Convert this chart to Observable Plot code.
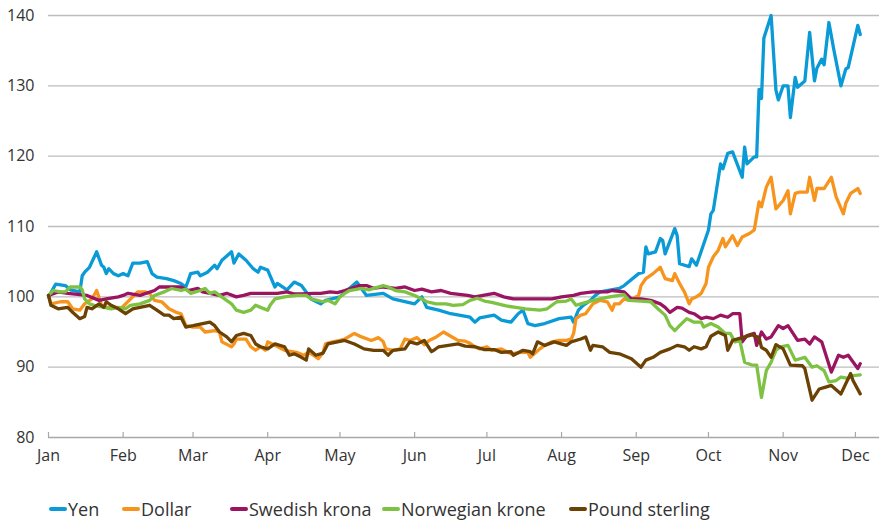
<!DOCTYPE html>
<html><head><meta charset="utf-8">
<script src="https://cdn.jsdelivr.net/npm/d3@7"></script>
<script src="https://cdn.jsdelivr.net/npm/@observablehq/plot@0.6"></script>
<style>
body{margin:0;background:#fff;font-family:"Open Sans",sans-serif;color:#333;}
#wrap{position:relative;width:879px;height:521px;}
#legend{position:absolute;left:0;top:496px;width:879px;height:26px;font-size:18px;color:#333;}
.item{position:absolute;top:0;height:26px;display:flex;align-items:center;white-space:nowrap;}
.sw{width:18px;height:4px;border-radius:2px;margin-right:1px;}
</style></head><body><div id="wrap"><div id="chart"></div><div id="legend"></div></div>
<script>
// [day of 2008 (0 = 1 Jan), index value]
const yen = [[0,100],[3,101.8],[7,101.6],[9,101],[13,100.7],[14,103],[15,103.5],[17,104.2],[20,106.4],[22,104.5],[23,104.2],[24,103.3],[25,104],[27,103.3],[29,103],[31,103.3],[33,103],[35,104.8],[38,104.8],[41,105],[43,103.3],[45,102.8],[49,102.6],[52,102.3],[55,101.9],[57,101.4],[58,102.3],[59,103.3],[62,103.5],[63,103],[66,103.5],[69,104.5],[70,104],[72,105.2],[76,106.4],[77,104.8],[79,106.1],[82,105.2],[85,104],[87,103.5],[88,104.2],[91,103.8],[94,101.4],[95,101.9],[99,101],[102,102.1],[105,101.6],[107,100.7],[109,99.7],[113,99],[115,99.5],[121,100],[128,102.1],[132,100.2],[139,100.5],[143,99.7],[152,99],[155,100],[157,98.5],[162,98.1],[167,97.6],[175,97.1],[177,96.4],[179,97],[185,97.4],[188,96.7],[192,96.4],[195,97.6],[197,98.1],[199,96.2],[202,95.9],[206,96.2],[212,96.9],[217,97.1],[218,96.4],[220,98.1],[222,98.8],[225,99.5],[227,100.2],[229,100.7],[237,101.2],[239,101.6],[245,103.3],[247,103.5],[248,107.1],[249,106.1],[252,106.4],[254,108.3],[255,108],[256,106.1],[260,109.7],[261,108.7],[262,104.7],[266,104.3],[267,105.4],[269,104.5],[273,108.5],[274,109.5],[275,111.8],[276,112.3],[279,118.9],[280,118.2],[282,120.4],[284,120.6],[288,117],[289,121.3],[290,118.9],[293,119.9],[294,119.9],[295,129.5],[296,128.2],[297,136.8],[300,140],[302,129.4],[303,128],[305,130],[307,130],[308,125.5],[310,131.2],[311,129.8],[314,130.7],[316,137.6],[318,130.7],[319,132.5],[321,133.8],[322,133],[324,139],[326,135.2],[329,130],[331,132.4],[332,132.6],[336,138.6],[337,137.3]];
const dollar = [[0,100.2],[1,99],[5,99.3],[8,99.3],[10,98.3],[13,98.1],[15,99],[18,99.7],[20,100.9],[22,98.8],[24,98.5],[28,98.5],[30,98.3],[37,100.7],[40,100.7],[42,100.5],[44,99.5],[47,99.3],[50,98.3],[53,97.8],[55,97.6],[57,95.9],[60,95.7],[63,95.7],[65,95],[69,95.2],[71,95],[72,93.6],[76,92.9],[77,93.3],[78,94],[82,94],[84,92.9],[86,92.4],[88,92.9],[90,92.4],[91,93.6],[94,93.1],[98,92.4],[103,92.1],[106,91.7],[108,92.1],[110,91.7],[112,91.2],[114,92.1],[115,93.3],[118,93.6],[121,93.8],[123,94],[127,94.8],[130,94.3],[134,93.8],[137,94.2],[139,93.6],[140,92.6],[143,92.4],[146,92.6],[148,94],[150,93.8],[153,94.2],[156,93.2],[158,93.8],[161,94.3],[164,95],[167,94.4],[170,93.8],[173,93.7],[175,93.4],[177,92.9],[179,92.6],[182,92.9],[184,92.4],[188,92.6],[192,91.9],[196,92.1],[199,92.1],[200,91.4],[204,92.6],[206,93.1],[209,93.6],[212,93.8],[215,93.8],[217,94],[218,94.8],[219,96.9],[221,97.4],[223,97.6],[226,99],[229,99.5],[232,99.3],[234,98.1],[235,99],[237,99],[239,99.7],[241,99.5],[245,100.2],[246,101.6],[248,102.6],[251,103.3],[254,104.2],[256,102.6],[259,102.3],[260,103.3],[262,101.9],[264,100.7],[266,99],[267,99.7],[269,100],[271,100.5],[273,101.9],[274,104.2],[276,105.7],[278,106.6],[280,108.3],[281,107.1],[284,108.7],[286,107.3],[288,108.5],[291,109],[293,109.5],[295,113.5],[296,112.8],[298,115.6],[300,117],[302,112.5],[305,113.7],[307,115.1],[308,111.8],[310,114.7],[312,114.9],[315,114.9],[316,117],[318,113.7],[319,115.4],[322,115.4],[325,117],[327,114.2],[330,111.8],[331,113.3],[333,114.7],[336,115.4],[337,114.7]];
const swedishKrona = [[0,100.2],[4,100.7],[8,100.5],[16,100.2],[21,99.5],[24,99.7],[29,100],[31,100.2],[33,100.5],[38,100.2],[44,100.9],[46,101.4],[55,101.4],[58,100.9],[62,101.2],[64,100.7],[67,100.5],[71,100.2],[74,100.5],[78,100],[81,100.2],[84,100.5],[88,100.5],[95,100.5],[99,100.7],[102,100.4],[105,100.4],[110,100.5],[113,100.5],[117,100.7],[120,100.6],[123,100.9],[129,101.6],[132,101.6],[135,101.2],[139,101.4],[144,101.2],[148,101.4],[152,100.9],[155,101.1],[159,100.7],[163,100.9],[167,100.5],[174,100.2],[177,100],[185,100.5],[189,100],[193,99.7],[199,99.7],[204,99.7],[209,99.7],[213,100],[218,100.2],[221,100.5],[226,100.7],[232,100.7],[234,100.9],[239,100.7],[242,99.7],[246,99.7],[250,99.5],[254,99],[256,98.5],[258,97.8],[261,98.5],[263,98.4],[266,97.8],[268,97.6],[271,96.9],[273,97.1],[276,96.9],[279,97.4],[282,97.1],[284,97.6],[287,97.6],[288,93.6],[290,94.5],[293,94.8],[294,93.1],[296,95],[298,94],[300,94.3],[303,95.9],[305,95.5],[307,95.9],[311,93.8],[314,94],[316,93.3],[318,94.3],[321,93.6],[325,89.3],[328,91.7],[330,91.4],[332,91.7],[336,89.8],[337,90.5]];
const norwegianKrone = [[0,100.2],[2,100.9],[5,100.7],[7,100.7],[9,101.4],[13,101.4],[14,101],[15,99.7],[17,99],[19,98.8],[23,98.5],[26,98.3],[29,98.5],[32,98.3],[34,98.8],[38,99],[42,99.5],[44,100.2],[48,100.7],[51,101.2],[55,100.9],[57,101.1],[59,100.5],[63,100.9],[65,101.2],[67,100.5],[69,100.7],[71,100.2],[76,99],[78,98.1],[81,97.8],[84,98.1],[86,98.8],[88,98.5],[91,98.1],[92,98.8],[94,99.7],[98,100],[103,100.2],[107,100.2],[109,99.7],[114,99.3],[116,99.5],[119,99],[121,100],[123,100.5],[125,100.9],[130,101.2],[133,101],[135,101.2],[139,101.6],[141,101.4],[144,100.9],[148,100.7],[152,100.2],[155,99.7],[157,99.3],[161,99],[165,99],[168,98.8],[172,98.9],[175,99.5],[178,99.8],[181,99.4],[184,99.2],[190,98.7],[194,98.5],[198,98.3],[204,98.1],[207,98.3],[211,99.3],[215,99.4],[217,99.7],[219,98.8],[221,99],[225,99.4],[229,99.7],[233,100],[237,100.2],[239,100.3],[241,99.5],[246,99.4],[250,99.3],[253,98.3],[256,97.4],[258,95.9],[260,95.2],[262,95.9],[265,96.9],[268,96.4],[271,96.4],[272,95.7],[275,96.2],[278,95.7],[281,94.8],[283,94.8],[285,93.6],[287,93.8],[289,90.7],[292,90.3],[294,90.3],[296,85.7],[298,89.5],[300,90.7],[302,92.4],[304,92.9],[307,93.1],[310,91],[312,91.2],[314,91.4],[317,90],[319,90.2],[322,89.5],[324,87.9],[327,88.1],[329,88.6],[332,88.4],[334,88.8],[337,88.9]];
const poundSterling = [[0,100.2],[1,98.8],[4,98.3],[8,98.5],[10,97.8],[13,96.9],[15,97.2],[16,98.5],[18,98.3],[21,99],[23,98.5],[24,99.3],[26,98.8],[29,98.3],[32,97.6],[35,98.3],[38,98.5],[42,98.8],[45,98.1],[48,97.4],[50,97.4],[52,96.9],[55,97.1],[57,95.7],[60,95.9],[64,96.2],[67,96.4],[69,95.9],[71,95],[74,94.3],[76,93.6],[78,94.5],[81,94.8],[84,94.5],[86,93.3],[88,92.9],[91,92.6],[94,93.3],[98,92.9],[100,91.7],[102,91.9],[105,91.4],[107,91],[108,92.6],[111,91.7],[114,92],[116,93.3],[120,93.6],[123,93.8],[127,93.3],[131,92.6],[135,92.4],[139,92.4],[141,91.7],[143,92.4],[148,92.6],[150,93.6],[153,93.3],[156,93.8],[159,92.2],[160,92.4],[162,92.9],[166,93.1],[170,93.3],[173,93],[177,92.9],[181,92.5],[185,92.5],[188,92.1],[192,92.2],[193,91.7],[197,92.4],[200,92.2],[201,91.9],[203,93.6],[206,93.1],[210,93.6],[215,93.1],[217,93.6],[221,94],[223,94.3],[225,92.4],[226,93.1],[230,92.9],[233,92.1],[237,91.9],[242,91.2],[246,90],[248,91],[251,91.4],[254,92.1],[258,92.6],[261,93.1],[264,92.9],[266,92.4],[268,92.9],[271,92.6],[273,92.9],[275,94.4],[278,95],[281,94.5],[282,92.4],[284,93.8],[288,94.2],[292,94.6],[295,94.2],[296,92.8],[298,92.4],[300,91.4],[302,93.2],[305,92.6],[308,90.3],[313,90.2],[314,89.8],[317,85.3],[320,86.9],[323,87.2],[325,87.4],[327,86.8],[329,86.2],[333,89.1],[334,88.1],[337,86.2]];

const seriesNames = ["Yen", "Dollar", "Swedish krona", "Norwegian krone", "Pound sterling"];
const seriesData = [yen, dollar, swedishKrona, norwegianKrone, poundSterling];
const seriesColors = ["#0a9bd7", "#f7941d", "#9b1461", "#7dc242", "#6b4204"];
const yTicks = [80, 90, 100, 110, 120, 130, 140];
const monthLabels = ["Jan","Feb","Mar","Apr","May","Jun","Jul","Aug","Sep","Oct","Nov","Dec"];

const year = 2008;
const dayToDate = d => new Date(Date.UTC(year, 0, 1) + d * 864e5);
const monthDates = monthLabels.map((m, i) => new Date(Date.UTC(year, i, 1)));
const rows = seriesNames.flatMap((name, k) => seriesData[k].map(([d, v]) => ({name, date: dayToDate(d), value: v})));

const chart = Plot.plot({
  width: 879, height: 475,
  marginLeft: 48, marginRight: 0, marginTop: 15, marginBottom: 38,
  style: {fontFamily: "'Open Sans', sans-serif", fontSize: "16px", color: "#333", background: "#fff"},
  x: {type: "utc", domain: [new Date(Date.UTC(year,0,1)), new Date(Date.UTC(year,11,11))]},
  y: {domain: [80, 140]},
  color: {domain: seriesNames, range: seriesColors},
  marks: [
    Plot.ruleY(yTicks.filter(v => v > 80), {stroke: "#bdbdbd", strokeWidth: 1.4}),
    Plot.ruleY([80], {stroke: "#a8a8a8", strokeWidth: 1.4}),
    Plot.ruleX(monthDates, {x: d => d, insetTop: 417, stroke: "#a8a8a8", strokeWidth: 1.2}),
    Plot.axisY({ticks: yTicks, tickSize: 0, tickPadding: 14, label: null, fontSize: 16}),
    Plot.axisX({ticks: monthDates, tickFormat: (d, i) => monthLabels[i], tickSize: 0, tickPadding: 12, label: null, fontSize: 16}),
    Plot.line(rows, {x: "date", y: "value", z: "name", stroke: "name", strokeWidth: 3.3, strokeLinejoin: "round", strokeLinecap: "round"})
  ]
});
document.getElementById("chart").appendChild(chart);

const legendLefts = [49, 122, 230, 382, 569];
const legend = document.getElementById("legend");
seriesNames.forEach((n, i) => {
  const it = document.createElement("div"); it.className = "item"; it.style.left = legendLefts[i] + "px";
  const sw = document.createElement("span"); sw.className = "sw"; sw.style.background = seriesColors[i];
  const tx = document.createElement("span"); tx.textContent = n;
  it.appendChild(sw); it.appendChild(tx); legend.appendChild(it);
});
</script></body></html>
